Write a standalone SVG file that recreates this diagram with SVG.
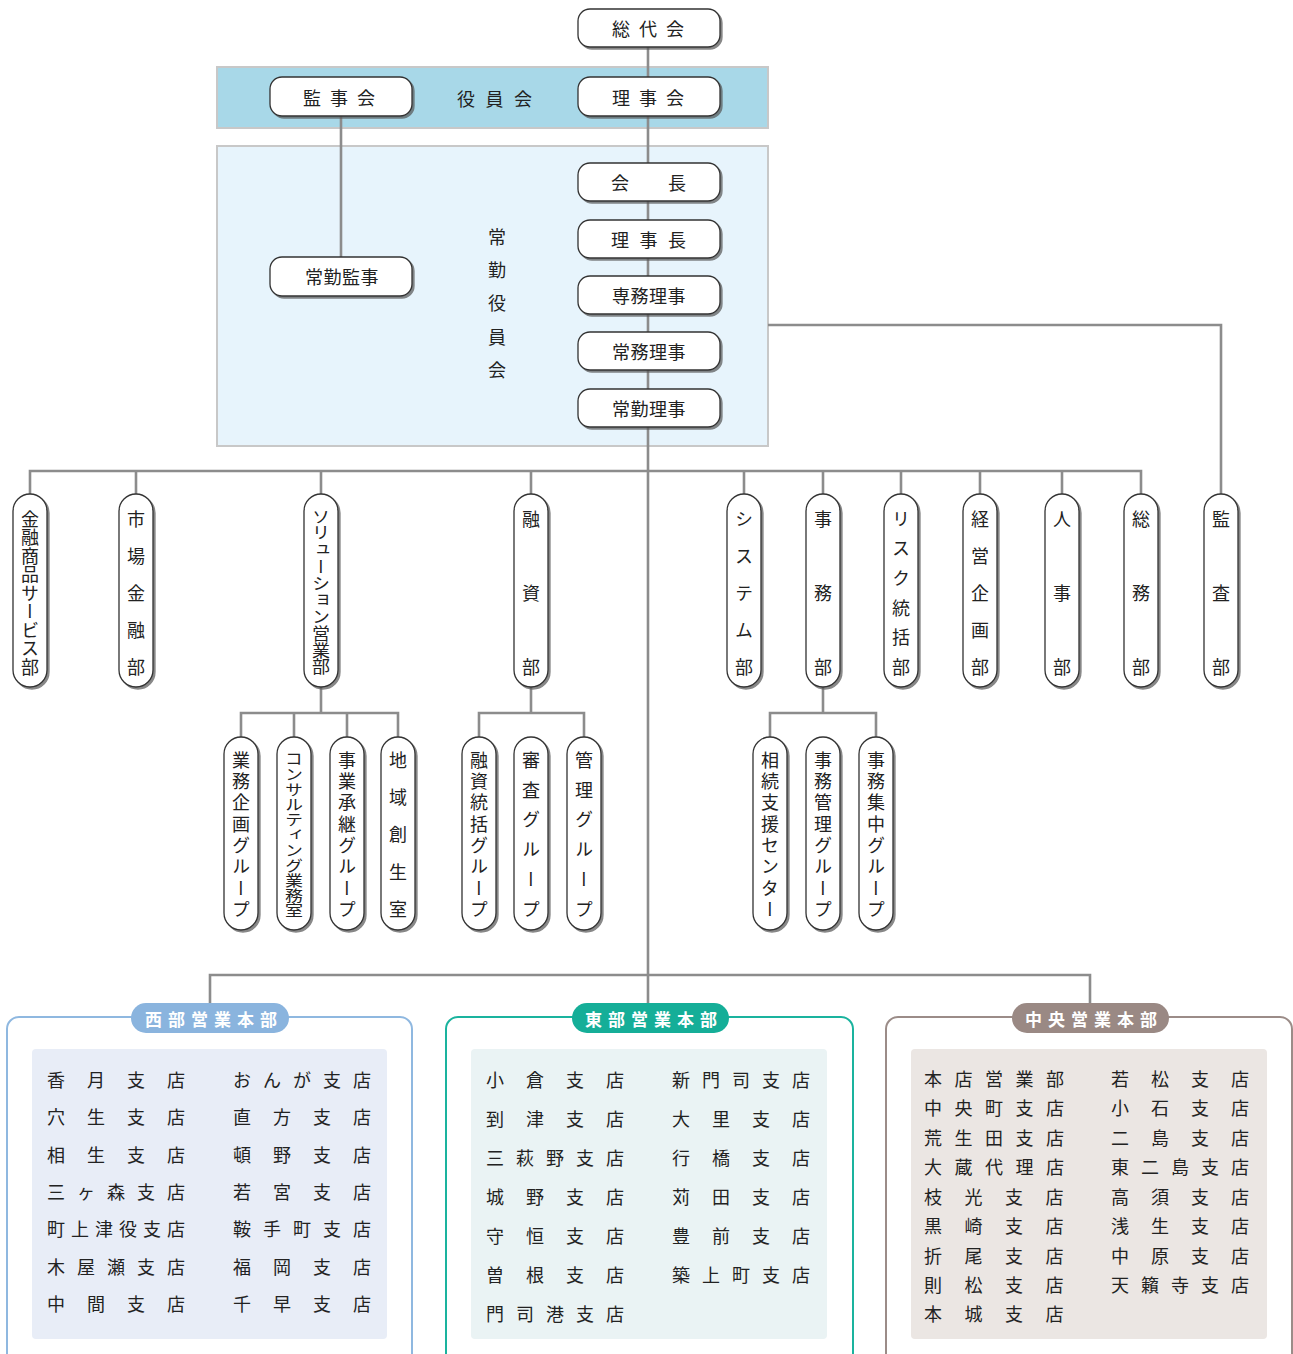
<svg xmlns="http://www.w3.org/2000/svg" width="1293" height="1354" viewBox="0 0 1293 1354">
<defs>
<filter id="sh" x="-20%" y="-20%" width="150%" height="150%">
<feDropShadow dx="2" dy="2" stdDeviation="0.7" flood-color="#555" flood-opacity="0.7"/>
</filter>
<style>
text{font-family:"Noto Sans CJK JP","Noto Sans",sans-serif;fill:#222;font-size:18px;dominant-baseline:central}
.box{fill:#fff;stroke:#333;stroke-width:1.3;filter:url(#sh)}
.ln{stroke:#8c8c8c;stroke-width:2.6;fill:none}
.v{writing-mode:vertical-rl}
.p{fill:#333}
.lbl{fill:#fff;font-weight:bold;font-size:17px;letter-spacing:6px}
</style>
</defs>
<rect x="217" y="67" width="551" height="61" fill="#a8d8e8" stroke="#c8c8c8" stroke-width="2"/>
<rect x="217" y="146" width="551" height="300" fill="#e7f4fc" stroke="#c8c8c8" stroke-width="2"/>
<g id="connectors">
<path class="ln" d="M648 47V975M341 116V257M768 325H1221V494M30 494V471H1141V494M136 471V494M321 471V494M531 471V494M744 471V494M823 471V494M901 471V494M980 471V494M1062 471V494"/>
<path class="ln" d="M321 687V713M241 737V713H398V737M294 713V737M347 713V737M531 687V713M479 737V713H584V737M823 687V713M770 737V713H876V737"/>
<path class="ln" d="M210 1003V975H1090V1003M648 975V1003"/>
</g>
<g id="sodaikai"><rect class="box" x="578" y="9" width="142" height="38" rx="12"/><text x="612" y="28" letter-spacing="9">総代会</text></g>
<g id="kanjikai"><rect class="box" x="270" y="77" width="142" height="39" rx="12"/><text x="303" y="97" letter-spacing="9">監事会</text></g>
<g id="yakuinkai"><text x="457" y="98" letter-spacing="10.5">役員会</text></g>
<g id="rijikai"><rect class="box" x="578" y="77" width="142" height="39" rx="12"/><text x="612" y="97" letter-spacing="9">理事会</text></g>
<g id="kaicho"><rect class="box" x="578" y="163" width="142" height="38" rx="12"/><text x="611" y="182" letter-spacing="39">会長</text></g>
<g id="rijicho"><rect class="box" x="578" y="220" width="142" height="38" rx="12"/><text x="611" y="239" letter-spacing="10.5">理事長</text></g>
<g id="senmu"><rect class="box" x="578" y="276" width="142" height="38" rx="12"/><text x="612" y="295" letter-spacing="0.5">専務理事</text></g>
<g id="jomu"><rect class="box" x="578" y="332" width="142" height="38" rx="12"/><text x="612" y="351" letter-spacing="0.5">常務理事</text></g>
<g id="jokin-riji"><rect class="box" x="578" y="389" width="142" height="38" rx="12"/><text x="612" y="408" letter-spacing="0.5">常勤理事</text></g>
<g id="jokin-kanji"><rect class="box" x="270" y="257" width="142" height="39" rx="12"/><text x="305" y="276" letter-spacing="0.5">常勤監事</text></g>
<g id="jokin-yakuinkai"><text class="v" x="497" y="228" letter-spacing="15.3">常勤役員会</text></g>
<g id="d1"><rect class="box" x="13" y="494" width="34" height="193" rx="17"/><text class="v" x="30" y="510" letter-spacing="0.5">金融商品サービス部</text></g>
<g id="d2"><rect class="box" x="119" y="494" width="34" height="193" rx="17"/><text class="v" x="136" y="510" letter-spacing="19">市場金融部</text></g>
<g id="d3"><rect class="box" x="304" y="494" width="34" height="193" rx="17"/><text class="v" transform="translate(321 508) scale(1 0.93)" x="0" y="0">ソリューション営業部</text></g>
<g id="d4"><rect class="box" x="514" y="494" width="34" height="193" rx="17"/><text class="v" x="531" y="510" letter-spacing="56">融資部</text></g>
<g id="d5"><rect class="box" x="727" y="494" width="34" height="193" rx="17"/><text class="v" x="744" y="510" letter-spacing="19">システム部</text></g>
<g id="d6"><rect class="box" x="806" y="494" width="34" height="193" rx="17"/><text class="v" x="823" y="510" letter-spacing="56">事務部</text></g>
<g id="d7"><rect class="box" x="884" y="494" width="34" height="193" rx="17"/><text class="v" x="901" y="510" letter-spacing="11.6">リスク統括部</text></g>
<g id="d8"><rect class="box" x="963" y="494" width="34" height="193" rx="17"/><text class="v" x="980" y="510" letter-spacing="19">経営企画部</text></g>
<g id="d9"><rect class="box" x="1045" y="494" width="34" height="193" rx="17"/><text class="v" x="1062" y="510" letter-spacing="56">人事部</text></g>
<g id="d10"><rect class="box" x="1124" y="494" width="34" height="193" rx="17"/><text class="v" x="1141" y="510" letter-spacing="56">総務部</text></g>
<g id="d11"><rect class="box" x="1204" y="494" width="34" height="193" rx="17"/><text class="v" x="1221" y="510" letter-spacing="56">監査部</text></g>
<g id="s1"><rect class="box" x="224" y="737" width="34" height="193" rx="17"/><text class="v" x="241" y="751" letter-spacing="3.3">業務企画グループ</text></g>
<g id="s2"><rect class="box" x="277" y="737" width="34" height="193" rx="17"/><text class="v" transform="translate(294 751) scale(1 0.845)" x="0" y="0">コンサルティング業務室</text></g>
<g id="s3"><rect class="box" x="330" y="737" width="34" height="193" rx="17"/><text class="v" x="347" y="751" letter-spacing="3.3">事業承継グループ</text></g>
<g id="s4"><rect class="box" x="381" y="737" width="34" height="193" rx="17"/><text class="v" x="398" y="751" letter-spacing="19.3">地域創生室</text></g>
<g id="s5"><rect class="box" x="462" y="737" width="34" height="193" rx="17"/><text class="v" x="479" y="751" letter-spacing="3.3">融資統括グループ</text></g>
<g id="s6"><rect class="box" x="514" y="737" width="34" height="193" rx="17"/><text class="v" x="531" y="751" letter-spacing="11.8">審査グループ</text></g>
<g id="s7"><rect class="box" x="567" y="737" width="34" height="193" rx="17"/><text class="v" x="584" y="751" letter-spacing="11.8">管理グループ</text></g>
<g id="s8"><rect class="box" x="753" y="737" width="34" height="193" rx="17"/><text class="v" x="770" y="751" letter-spacing="3.3">相続支援センター</text></g>
<g id="s9"><rect class="box" x="806" y="737" width="34" height="193" rx="17"/><text class="v" x="823" y="751" letter-spacing="3.3">事務管理グループ</text></g>
<g id="s10"><rect class="box" x="859" y="737" width="34" height="193" rx="17"/><text class="v" x="876" y="751" letter-spacing="3.3">事務集中グループ</text></g>
<g id="west">
<rect x="7" y="1017" width="405" height="370" rx="12" fill="#fff" stroke="#8fb8e0" stroke-width="2"/>
<rect x="32" y="1049" width="355" height="290" rx="4" fill="#e8edf7"/>
<rect x="131" y="1003" width="158" height="30" rx="15" fill="#8ab4de"/>
<text class="lbl" x="145" y="1018">西部営業本部</text>
<g class="p">
<text x="47" y="1079" letter-spacing="22">香月支店</text>
<text x="47" y="1116" letter-spacing="22">穴生支店</text>
<text x="47" y="1154" letter-spacing="22">相生支店</text>
<text x="47" y="1191" letter-spacing="12">三ヶ森支店</text>
<text x="47" y="1228" letter-spacing="6">町上津役支店</text>
<text x="47" y="1266" letter-spacing="12">木屋瀬支店</text>
<text x="47" y="1303" letter-spacing="22">中間支店</text>
<text x="233" y="1079" letter-spacing="12">おんが支店</text>
<text x="233" y="1116" letter-spacing="22">直方支店</text>
<text x="233" y="1154" letter-spacing="22">頓野支店</text>
<text x="233" y="1191" letter-spacing="22">若宮支店</text>
<text x="233" y="1228" letter-spacing="12">鞍手町支店</text>
<text x="233" y="1266" letter-spacing="22">福岡支店</text>
<text x="233" y="1303" letter-spacing="22">千早支店</text>
</g>
</g>
<g id="east">
<rect x="446" y="1017" width="407" height="370" rx="12" fill="#fff" stroke="#1ab39e" stroke-width="2"/>
<rect x="471" y="1049" width="356" height="290" rx="4" fill="#eaf3f4"/>
<rect x="572" y="1003" width="157" height="30" rx="15" fill="#15ae98"/>
<text class="lbl" x="585" y="1018">東部営業本部</text>
<g class="p">
<text x="486" y="1079" letter-spacing="22">小倉支店</text>
<text x="486" y="1118" letter-spacing="22">到津支店</text>
<text x="486" y="1157" letter-spacing="12">三萩野支店</text>
<text x="486" y="1196" letter-spacing="22">城野支店</text>
<text x="486" y="1235" letter-spacing="22">守恒支店</text>
<text x="486" y="1274" letter-spacing="22">曽根支店</text>
<text x="486" y="1313" letter-spacing="12">門司港支店</text>
<text x="672" y="1079" letter-spacing="12">新門司支店</text>
<text x="672" y="1118" letter-spacing="22">大里支店</text>
<text x="672" y="1157" letter-spacing="22">行橋支店</text>
<text x="672" y="1196" letter-spacing="22">苅田支店</text>
<text x="672" y="1235" letter-spacing="22">豊前支店</text>
<text x="672" y="1274" letter-spacing="12">築上町支店</text>
</g>
</g>
<g id="central">
<rect x="886" y="1017" width="406" height="370" rx="12" fill="#fff" stroke="#9b8c88" stroke-width="2"/>
<rect x="911" y="1049" width="356" height="290" rx="4" fill="#ebe6e3"/>
<rect x="1012" y="1003" width="157" height="30" rx="15" fill="#9a8984"/>
<text class="lbl" x="1025" y="1018">中央営業本部</text>
<g class="p">
<text x="924" y="1078" letter-spacing="12.5">本店営業部</text>
<text x="924" y="1107" letter-spacing="12.5">中央町支店</text>
<text x="924" y="1137" letter-spacing="12.5">荒生田支店</text>
<text x="924" y="1166" letter-spacing="12.5">大蔵代理店</text>
<text x="924" y="1196" letter-spacing="22.5">枝光支店</text>
<text x="924" y="1225" letter-spacing="22.5">黒崎支店</text>
<text x="924" y="1255" letter-spacing="22.5">折尾支店</text>
<text x="924" y="1284" letter-spacing="22.5">則松支店</text>
<text x="924" y="1313" letter-spacing="22.5">本城支店</text>
<text x="1111" y="1078" letter-spacing="22">若松支店</text>
<text x="1111" y="1107" letter-spacing="22">小石支店</text>
<text x="1111" y="1137" letter-spacing="22">二島支店</text>
<text x="1111" y="1166" letter-spacing="12">東二島支店</text>
<text x="1111" y="1196" letter-spacing="22">高須支店</text>
<text x="1111" y="1225" letter-spacing="22">浅生支店</text>
<text x="1111" y="1255" letter-spacing="22">中原支店</text>
<text x="1111" y="1284" letter-spacing="12">天籟寺支店</text>
</g>
</g>
</svg>
